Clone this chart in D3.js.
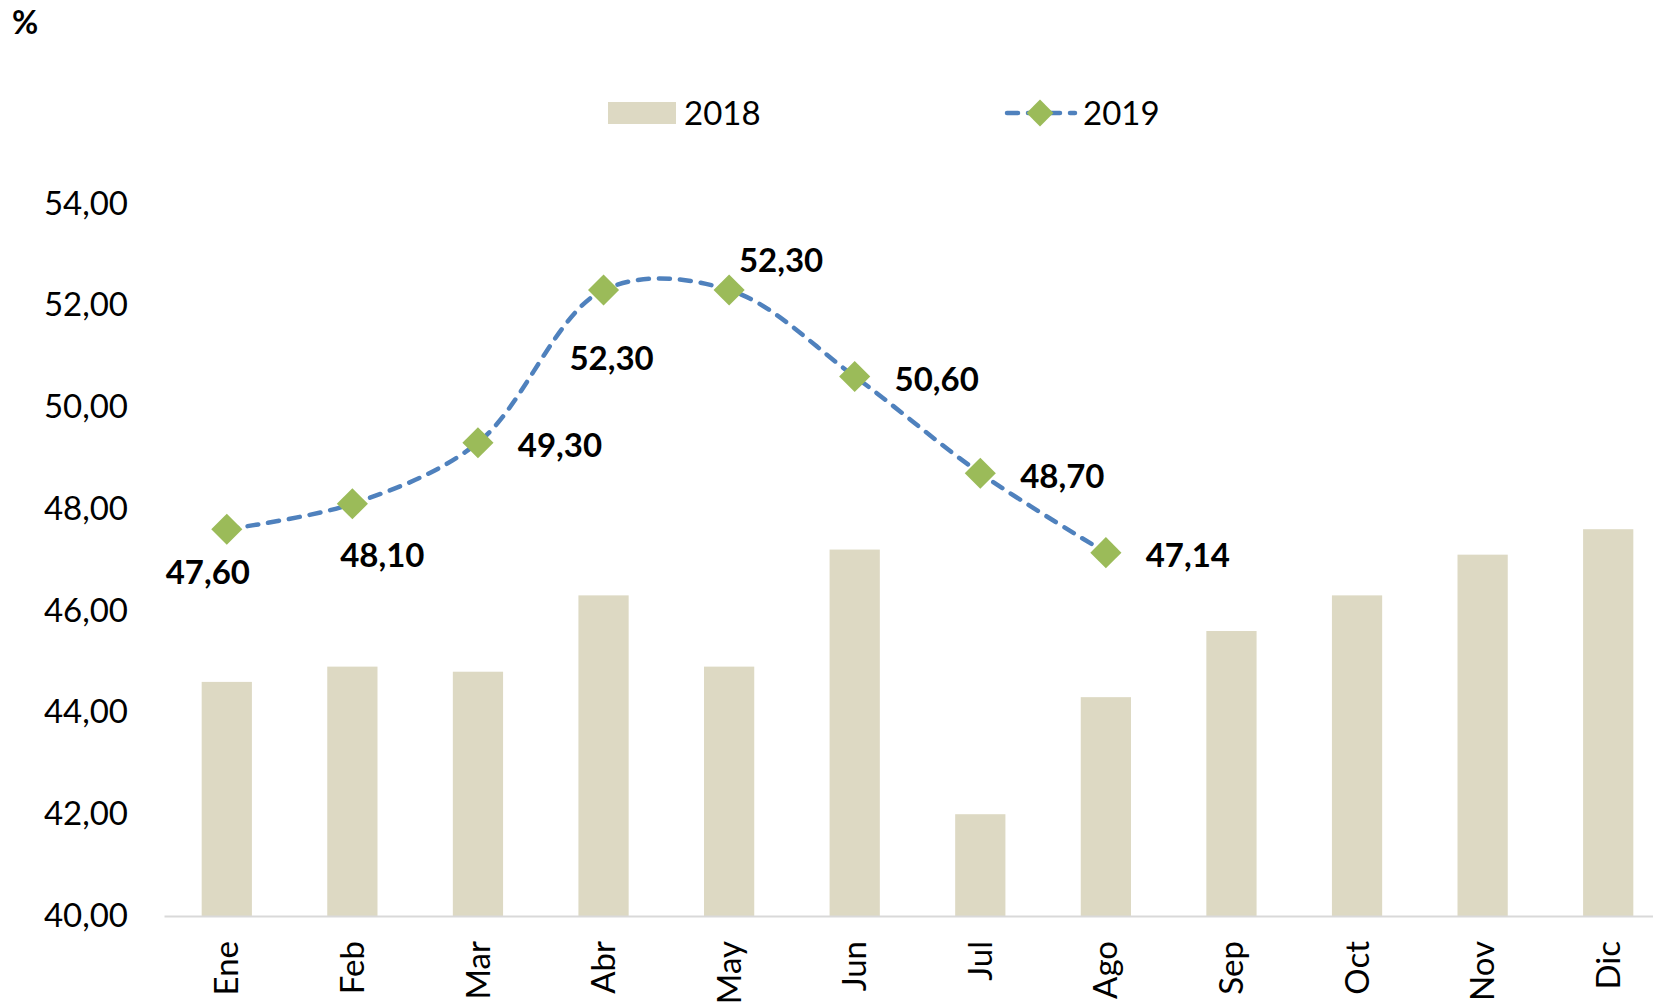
<!DOCTYPE html>
<html>
<head>
<meta charset="utf-8">
<script src="https://cdn.jsdelivr.net/npm/d3@7"></script>
<style>
  body { margin: 0; background: #fff; }
  svg text { font-family: Lato, "Open Sans", sans-serif; fill: #000; }
</style>
</head>
<body>
<div id="chart"></div>
<script>
'use strict';

// months on the x axis
const months = ['Ene', 'Feb', 'Mar', 'Abr', 'May', 'Jun', 'Jul', 'Ago', 'Sep', 'Oct', 'Nov', 'Dic'];
// 2018 bars
const values2018 = [44.6, 44.9, 44.8, 46.3, 44.9, 47.2, 42.0, 44.3, 45.6, 46.3, 47.1, 47.6];
// 2019 line (only up to Ago)
const values2019 = [47.60, 48.10, 49.30, 52.30, 52.30, 50.60, 48.70, 47.14];
const yTicks = [40, 42, 44, 46, 48, 50, 52, 54];
// where each 2019 label sits relative to its marker
const labelSide = ['belowLeft', 'belowRight', 'right', 'below', 'aboveRight', 'right', 'right', 'right'];

const W = 1653, H = 1007;
const barColor = '#DDD9C3', lineColor = '#4F81BD', markColor = '#9BBB59';

const locale = d3.formatLocale({ decimal: ',', thousands: '.', grouping: [3], currency: ['', ''] });
const fmt = locale.format('.2f');

const svg = d3.select('#chart').append('svg')
    .attr('width', W)
    .attr('height', H)
    .attr('viewBox', `0 0 ${W} ${H}`);

// the plot runs a bit past the right edge, like the source image
const x = d3.scaleBand().domain(months).range([164, 1671]).paddingInner(0.6).paddingOuter(0.3);
const xc = d => x(d) + x.bandwidth() / 2;
const y = d3.scaleLinear().domain([40, 54]).range([916, 203.5]);

// y axis
const yAxis = svg.append('g')
    .attr('transform', 'translate(164,0)')
    .call(d3.axisLeft(y).tickValues(yTicks).tickFormat(fmt).tickSize(0).tickPadding(36));
yAxis.select('.domain').remove();
yAxis.selectAll('text')
    .attr('font-size', '33px')
    .attr('font-family', 'Lato, sans-serif')
    .attr('fill', '#000');

// bars 2018
svg.selectAll('.bar')
    .data(values2018)
    .enter().append('rect')
    .attr('class', 'bar')
    .attr('x', (d, i) => x(months[i]))
    .attr('width', x.bandwidth())
    .attr('y', d => y(d))
    .attr('height', d => y(40) - y(d))
    .attr('fill', barColor);

// x axis
const xAxis = svg.append('g')
    .attr('transform', `translate(0,${y(40)})`)
    .call(d3.axisBottom(x).tickSize(0).tickPadding(0));
xAxis.select('.domain')
    .attr('stroke', '#D9D9D9')
    .attr('stroke-width', 2);
xAxis.selectAll('text')
    .attr('font-size', '33px')
    .attr('font-family', 'Lato, sans-serif')
    .attr('fill', '#000')
    .attr('text-anchor', 'end')
    .attr('dy', '0.35em')
    .attr('transform', 'translate(0,25) rotate(-90)');

// 2019 line
const line = d3.line()
    .x((d, i) => xc(months[i]))
    .y(d => y(d))
    .curve(d3.curveCatmullRom.alpha(0.5));

svg.append('path')
    .datum(values2019)
    .attr('d', line)
    .attr('fill', 'none')
    .attr('stroke', lineColor)
    .attr('stroke-width', 4.5)
    .attr('stroke-dasharray', '11,10')
    .attr('stroke-linecap', 'round');

// diamond about 31px across
const diamond = d3.symbol().type(d3.symbolSquare).size(22 * 22);

svg.selectAll('.mark')
    .data(values2019)
    .enter().append('path')
    .attr('class', 'mark')
    .attr('d', diamond)
    .attr('transform', (d, i) => `translate(${xc(months[i])},${y(d)}) rotate(45)`)
    .attr('fill', markColor);

const offsets = {
    belowLeft: [-19, 43],
    belowRight: [30, 52],
    right: [82, 3],
    below: [8, 68],
    aboveRight: [52, -30]
};

svg.selectAll('.lbl')
    .data(values2019)
    .enter().append('text')
    .attr('class', 'lbl')
    .attr('x', (d, i) => xc(months[i]) + offsets[labelSide[i]][0])
    .attr('y', (d, i) => y(d) + offsets[labelSide[i]][1])
    .attr('dy', '0.35em')
    .attr('text-anchor', 'middle')
    .attr('font-size', '33px')
    .attr('font-weight', 'bold')
    .text(d => fmt(d));

// "%" unit
svg.append('text')
    .attr('x', 12)
    .attr('y', 34)
    .attr('font-size', '32px')
    .attr('font-weight', 'bold')
    .text('%');

// legend
const legend = svg.append('g');
legend.append('rect')
    .attr('x', 608).attr('y', 102)
    .attr('width', 68).attr('height', 22)
    .attr('fill', barColor);
legend.append('text')
    .attr('x', 684).attr('y', 113)
    .attr('dy', '0.35em')
    .attr('font-size', '33px')
    .text('2018');

legend.append('line')
    .attr('x1', 1007).attr('x2', 1075)
    .attr('y1', 113).attr('y2', 113)
    .attr('stroke', lineColor)
    .attr('stroke-width', 4.5)
    .attr('stroke-dasharray', '11,10')
    .attr('stroke-linecap', 'round');
legend.append('path')
    .attr('d', d3.symbol().type(d3.symbolSquare).size(19 * 19))
    .attr('transform', 'translate(1040,113) rotate(45)')
    .attr('fill', markColor);
legend.append('text')
    .attr('x', 1083).attr('y', 113)
    .attr('dy', '0.35em')
    .attr('font-size', '33px')
    .text('2019');
</script>
</body>
</html>
